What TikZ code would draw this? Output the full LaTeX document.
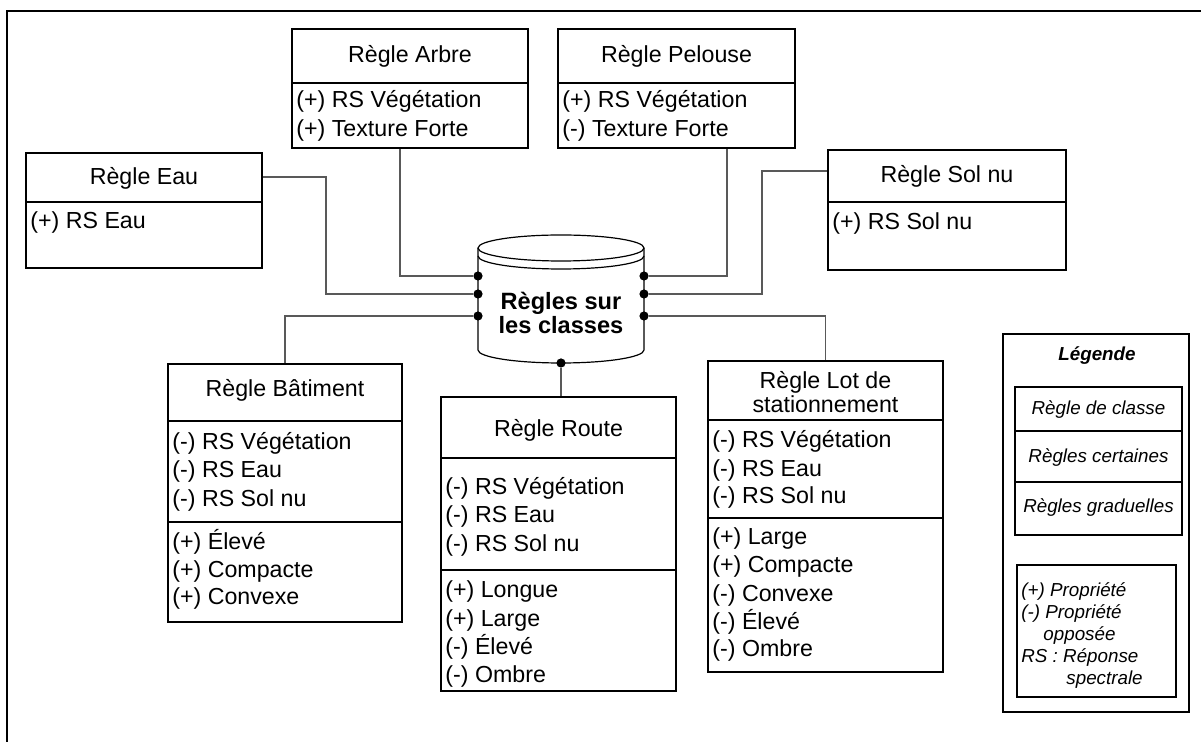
\documentclass[tikz,border=0pt]{standalone}
\usepackage{fontspec}
\setmainfont{Liberation Sans}
\usetikzlibrary{fit}
\begin{document}
\begin{tikzpicture}[x=0.5pt,y=-0.5pt,
  frame/.style={line width=1.2pt,black},
  box/.style={draw,line width=1pt,inner sep=0pt},
  sep/.style={line width=1pt},
  conn/.style={draw=black!65,line width=0.6pt},
  txt/.style={font=\fontsize{11.6}{13}\selectfont,inner sep=0pt},
  head/.style={txt,anchor=base},
  item/.style={txt,anchor=base west},
  leg/.style={font=\fontsize{9.4}{11}\selectfont\itshape,inner sep=0pt},
  legc/.style={leg,anchor=base},
  legi/.style={leg,anchor=base west},
  dotn/.style={circle,fill=black,inner sep=0pt,minimum size=4.6pt},
  cyl/.style={line width=0.6pt}
]
\useasboundingbox (0,0) rectangle (1201,742);
% outer frame
\draw[frame] (7,742) -- (7,11) -- (1201,11);

% ---------- Regle Arbre
\coordinate (arbre-nw) at (292,29); \coordinate (arbre-se) at (528,148);
\node[box,fit=(arbre-nw)(arbre-se)] (arbre) {};
\draw[sep] (292,83) -- (528,83);
\node[head] (arbre-h) at (410,63) {Règle Arbre};
\node[item] (arbre-1) at (296,108) {(+) RS Végétation};
\node[item] (arbre-2) at (296,137) {(+) Texture Forte};

% ---------- Regle Pelouse
\coordinate (pel-nw) at (558,29); \coordinate (pel-se) at (795,148);
\node[box,fit=(pel-nw)(pel-se)] (pel) {};
\draw[sep] (558,83) -- (795,83);
\node[head] (pel-h) at (676.5,63) {Règle Pelouse};
\node[item] (pel-1) at (562,108) {(+) RS Végétation};
\node[item] (pel-2) at (562,137) {(-) Texture Forte};

% ---------- Regle Eau
\coordinate (eau-nw) at (26,153); \coordinate (eau-se) at (262,268);
\node[box,fit=(eau-nw)(eau-se)] (eau) {};
\draw[sep] (26,202) -- (262,202);
\node[head] (eau-h) at (144,185) {Règle Eau};
\node[item] (eau-1) at (30,229) {(+) RS Eau};

% ---------- Regle Sol nu
\coordinate (sol-nw) at (828,150); \coordinate (sol-se) at (1066,270);
\node[box,fit=(sol-nw)(sol-se)] (sol) {};
\draw[sep] (828,202) -- (1066,202);
\node[head] (sol-h) at (947,183) {Règle Sol nu};
\node[item] (sol-1) at (832,230) {(+) RS Sol nu};

% ---------- Regle Batiment
\coordinate (bat-nw) at (168,364); \coordinate (bat-se) at (402,622);
\node[box,fit=(bat-nw)(bat-se)] (bat) {};
\draw[sep] (168,421) -- (402,421);
\draw[sep] (168,522) -- (402,522);
\node[head] (bat-h) at (285,397) {Règle Bâtiment};
\node[item] (bat-1) at (172,450) {(-) RS Végétation};
\node[item] (bat-2) at (172,478) {(-) RS Eau};
\node[item] (bat-3) at (172,507) {(-) RS Sol nu};
\node[item] (bat-4) at (172,550) {(+) Élevé};
\node[item] (bat-5) at (172,578) {(+) Compacte};
\node[item] (bat-6) at (172,605) {(+) Convexe};

% ---------- Regle Route
\coordinate (route-nw) at (441,397); \coordinate (route-se) at (676,691);
\node[box,fit=(route-nw)(route-se)] (route) {};
\draw[sep] (441,458) -- (676,458);
\draw[sep] (441,570) -- (676,570);
\node[head] (route-h) at (558.5,437) {Règle Route};
\node[item] (route-1) at (445,495) {(-) RS Végétation};
\node[item] (route-2) at (445,523) {(-) RS Eau};
\node[item] (route-3) at (445,552) {(-) RS Sol nu};
\node[item] (route-4) at (445,598) {(+) Longue};
\node[item] (route-5) at (445,627) {(+) Large};
\node[item] (route-6) at (445,655) {(-) Élevé};
\node[item] (route-7) at (445,683) {(-) Ombre};

% ---------- Regle Lot de stationnement
\coordinate (lot-nw) at (708,361); \coordinate (lot-se) at (943,672);
\node[box,fit=(lot-nw)(lot-se)] (lot) {};
\draw[sep] (708,420) -- (943,420);
\draw[sep] (708,518) -- (943,518);
\node[head] (lot-h1) at (825.5,389) {Règle Lot de};
\node[head] (lot-h2) at (825.5,413) {stationnement};
\node[item] (lot-1) at (712,448) {(-) RS Végétation};
\node[item] (lot-2) at (712,477) {(-) RS Eau};
\node[item] (lot-3) at (712,504) {(-) RS Sol nu};
\node[item] (lot-4) at (712,545) {(+) Large};
\node[item] (lot-5) at (712,573) {(+) Compacte};
\node[item] (lot-6) at (712,602) {(-) Convexe};
\node[item] (lot-7) at (712,630) {(-) Élevé};
\node[item] (lot-8) at (712,657) {(-) Ombre};

% ---------- Cylinder
\draw[cyl,fill=white] (478,248) -- (478,350)
   arc[start angle=180,end angle=360,x radius=41.5pt,y radius=6.5pt] -- (644,248);
\draw[cyl] (561,248) ellipse[x radius=41.5pt,y radius=6.5pt];
\draw[cyl] (478,256) arc[start angle=180,end angle=360,x radius=41.5pt,y radius=6.5pt];
\node[font=\fontsize{11.8}{11}\selectfont\bfseries,align=center,inner sep=0pt] (cyl) at (561,313) {Règles sur\\les classes};

% dots
\node[dotn] (dl1) at (478,276) {};
\node[dotn] (dl2) at (478,294) {};
\node[dotn] (dl3) at (478,316) {};
\node[dotn] (dr1) at (644,276) {};
\node[dotn] (dr2) at (644,294) {};
\node[dotn] (dr3) at (644,316) {};
\node[dotn] (db) at (561,363) {};

% ---------- connectors
\draw[conn] ([xshift=-5pt]arbre.south) |- (dl1);
\draw[conn] ([yshift=16.75pt]eau.east) -- ++(63,0) |- (dl2);
\draw[conn] (dl3) -| (bat.north);
\draw[conn] ([xshift=25.25pt]pel.south) |- (dr1);
\draw[conn] ([yshift=19.5pt]sol.west) -- ++(-65,0) |- (dr2);
\draw[conn] (dr3) -| (lot.north);
\draw[conn] (db) -- (db |- route.north);

% ---------- Legend
\coordinate (leg-nw) at (1003,334); \coordinate (leg-se) at (1189,712);
\node[box,fit=(leg-nw)(leg-se)] (legend) {};
\node[leg,font=\fontsize{9.4}{11}\selectfont\bfseries\itshape,anchor=base] (leg-t) at (1097,361) {Légende};
\coordinate (l1-nw) at (1015,387); \coordinate (l1-se) at (1182,535);
\node[box,fit=(l1-nw)(l1-se)] (leg1) {};
\draw[sep] (1015,431) -- (1182,431);
\draw[sep] (1015,482) -- (1182,482);
\node[legc] (leg1-a) at (1098.5,415) {Règle de classe};
\node[legc] (leg1-b) at (1098.5,463) {Règles certaines};
\node[legc] (leg1-c) at (1098.5,513) {Règles graduelles};
\coordinate (l2-nw) at (1017,565); \coordinate (l2-se) at (1176,697);
\node[box,fit=(l2-nw)(l2-se)] (leg2) {};
\node[legi] (leg2-a) at (1021,597) {(+) Propriété};
\node[legi] (leg2-b) at (1021,619) {(-) Propriété};
\node[legi] (leg2-c) at (1043,641) {opposée};
\node[legi] (leg2-d) at (1021,663) {RS : Réponse};
\node[legi] (leg2-e) at (1066,685) {spectrale};
\end{tikzpicture}
\end{document}
